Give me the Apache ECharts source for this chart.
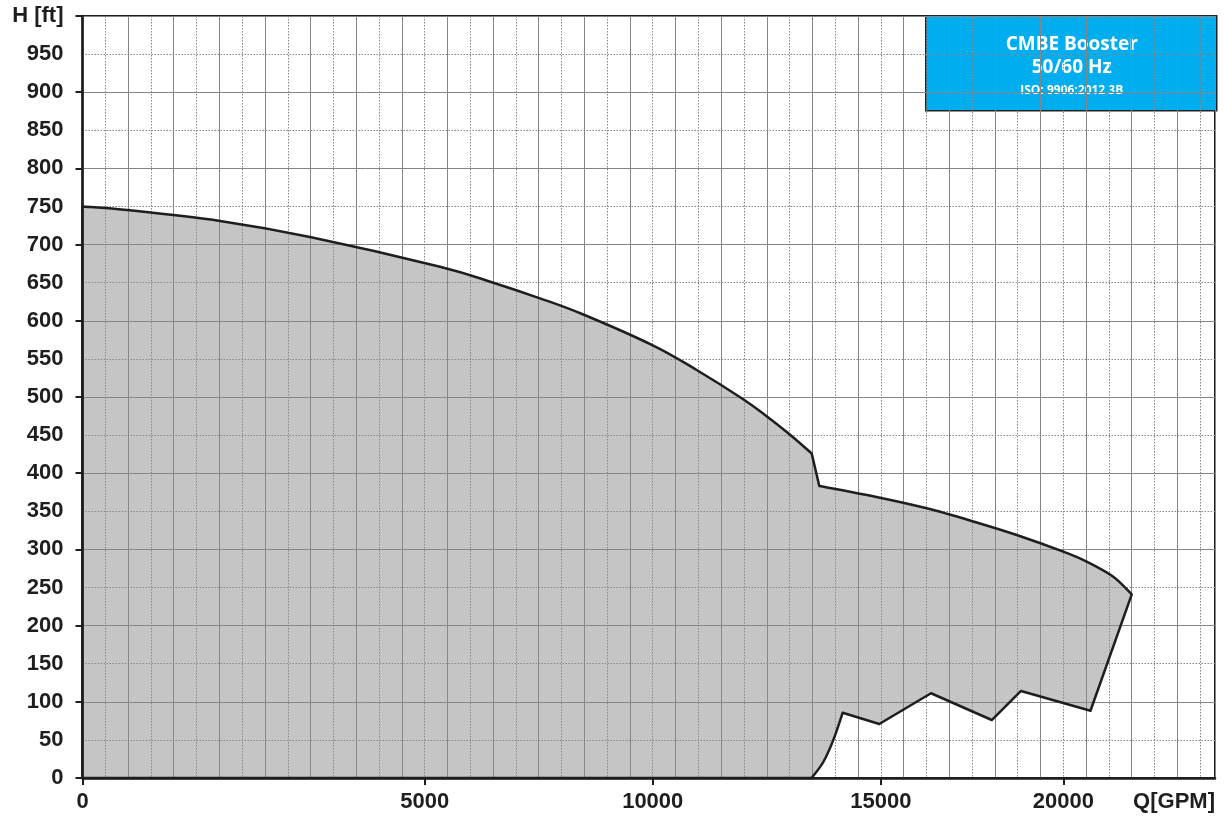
<!DOCTYPE html>
<html><head><meta charset="utf-8">
<script src="https://cdn.jsdelivr.net/npm/echarts@6/dist/echarts.min.js"></script>
<style>html,body{margin:0;padding:0;background:#fff}#c{width:1224px;height:817px}</style>
</head><body><div id="c"></div>
<script>
// X axis: labelled flow values and the grid line index where each label sits
const xTickValues = [0, 5000, 10000, 15000, 20000];
const xTickGridIndex = [0, 15, 25, 35, 43];
const xGridMax = 49.65;
const xAxisName = 'Q[GPM]';
// Y axis labels
const yLabelValues = [0,50,100,150,200,250,300,350,400,450,500,550,600,650,700,750,800,850,900,950,1000];
const yAxisName = 'H [ft]';

// Upper boundary, first (smooth) branch: Q [GPM], H [ft]
const upper1Q = [0, 694, 2010, 3324, 5336, 6505, 7528, 8478, 10012, 10963, 11950, 12461, 12971, 13484];
const upper1H = [750, 745, 731, 710, 671, 650, 629.5, 608.3, 567.5, 535.4, 498.3, 476.4, 452.4, 426];
// Upper boundary, second (smooth) branch after the step
const upper2Q = [13651, 14982, 16257, 17488, 18724, 20000, 20639, 21369, 21875];
const upper2H = [383.2, 367.8, 353.9, 337.3, 318.9, 297, 284, 264.2, 241];
// Lower boundary, straight zig-zag from the right end
const lowerZigQ = [20744, 18840, 18040, 16375, 14965, 14164];
const lowerZigH = [88.3, 114.2, 76.1, 111.2, 70.9, 85.7];
// Lower boundary, curved foot down to the axis
const lowerFootQ = [14164, 13959, 13739, 13484];
const lowerFootH = [85.7, 50, 21, 0];

const title1 = 'CMBE Booster';
const title2 = '50/60 Hz';
const title3 = 'ISO: 9906:2012 3B';

function toGrid(q) {
  const n = xTickValues.length;
  let i = 0;
  while (i < n - 2 && q > xTickValues[i + 1]) i++;
  const q0 = xTickValues[i], q1 = xTickValues[i + 1];
  const g0 = xTickGridIndex[i], g1 = xTickGridIndex[i + 1];
  return g0 + (q - q0) * (g1 - g0) / (q1 - q0);
}
const pairs = (qs, hs) => qs.map((q, i) => [toGrid(q), hs[i]]);
const segUpper1 = pairs(upper1Q, upper1H);
const segUpper2 = pairs(upper2Q, upper2H);
const segZig = pairs(lowerZigQ, lowerZigH);
const segFoot = pairs(lowerFootQ, lowerFootH);

function smoothTo(pts) {
  // Catmull-Rom through screen points, as cubic beziers (first point assumed current)
  let d = '';
  for (let i = 0; i < pts.length - 1; i++) {
    const p0 = pts[i - 1] || pts[i], p1 = pts[i], p2 = pts[i + 1], p3 = pts[i + 2] || pts[i + 1];
    const c1 = [p1[0] + (p2[0] - p0[0]) / 6, p1[1] + (p2[1] - p0[1]) / 6];
    const c2 = [p2[0] - (p3[0] - p1[0]) / 6, p2[1] - (p3[1] - p1[1]) / 6];
    d += ` C${c1[0]},${c1[1]} ${c2[0]},${c2[1]} ${p2[0]},${p2[1]}`;
  }
  return d;
}

const labelFont = {fontFamily: "'Liberation Sans', Arial, sans-serif", fontWeight: 'bold', fontSize: 22, color: '#1e1e1e'};
const chart = echarts.init(document.getElementById('c'), null, {renderer: 'canvas'});
chart.setOption({
  animation: false,
  grid: {left: 82.5, right: 9, top: 16, bottom: 39, show: true, borderColor: '#1e1e1e', borderWidth: 2, backgroundColor: 'transparent'},
  xAxis: [{
    type: 'value', min: 0, max: xGridMax, interval: 2, position: 'bottom',
    axisLine: {show: true, onZero: false, lineStyle: {color: '#1e1e1e', width: 2.5}},
    axisTick: {show: false}, axisLabel: {show: false},
    splitLine: {show: true, lineStyle: {color: '#858585', width: 1}},
    minorTick: {show: false, splitNumber: 2},
    minorSplitLine: {show: true, lineStyle: {color: '#858585', width: 1, type: [1.5, 1.5]}}
  }, {
    type: 'value', min: 0, max: xGridMax, position: 'bottom',
    axisLine: {show: false},
    axisTick: {show: true, length: 7, customValues: xTickGridIndex, lineStyle: {color: '#1e1e1e', width: 2}},
    axisLabel: Object.assign({show: true, margin: 13, customValues: xTickGridIndex,
      formatter: v => { const k = xTickGridIndex.indexOf(v); return k >= 0 ? String(xTickValues[k]) : ''; }}, labelFont),
    splitLine: {show: false},
    name: xAxisName, nameLocation: 'end', nameGap: 0,
    nameTextStyle: Object.assign({align: 'right', verticalAlign: 'top', padding: [13, 0, 0, 0]}, labelFont)
  }],
  yAxis: [{
    type: 'value', min: 0, max: 1000, interval: 100, position: 'left',
    axisLine: {show: true, onZero: false, lineStyle: {color: '#1e1e1e', width: 2.5}},
    axisTick: {show: true, length: 7, lineStyle: {color: '#1e1e1e', width: 2}},
    axisLabel: {show: false},
    splitLine: {show: true, lineStyle: {color: '#858585', width: 1}},
    minorTick: {show: false, splitNumber: 2},
    minorSplitLine: {show: true, lineStyle: {color: '#858585', width: 1, type: [1.5, 1.5]}}
  }, {
    type: 'value', min: 0, max: 1000, interval: 50, position: 'left',
    axisLine: {show: false}, axisTick: {show: false}, splitLine: {show: false},
    axisLabel: Object.assign({show: true, margin: 19, customValues: yLabelValues,
      formatter: v => v === 1000 ? yAxisName : String(v)}, labelFont)
  }],
  series: [{
    type: 'custom', xAxisIndex: 0, yAxisIndex: 0, data: [0], z: 3, silent: true,
    renderItem: (params, api) => {
      const c = p => api.coord(p);
      const u1 = segUpper1.map(c), u2 = segUpper2.map(c), zig = segZig.map(c), foot = segFoot.map(c);
      const origin = c([0, 0]);
      let d = `M${origin[0]},${origin[1]} L${u1[0][0]},${u1[0][1]}`;
      d += smoothTo(u1);
      d += ` L${u2[0][0]},${u2[0][1]}`;
      d += smoothTo(u2);
      zig.forEach(p => { d += ` L${p[0]},${p[1]}`; });
      d += smoothTo(foot);
      d += ' Z';
      return {type: 'path', shape: {pathData: d},
        style: {fill: 'rgba(140,140,140,0.5)', stroke: '#1e1e1e', lineWidth: 2.5, lineJoin: 'round'}};
    }
  }],
  graphic: [{
    type: 'group', left: 925, top: 15, z: 100,
    children: [
      {type: 'rect', shape: {x: 0, y: 0, width: 291, height: 95}, style: {fill: '#00aeef', stroke: '#222', lineWidth: 1.5}},
      {type: 'text', x: 146, y: 29, style: {text: title1, fill: '#fff', font: "bold 19px 'Open Sans', sans-serif", align: 'center', verticalAlign: 'middle'}},
      {type: 'text', x: 146, y: 52, style: {text: title2, fill: '#fff', font: "bold 19px 'Open Sans', sans-serif", align: 'center', verticalAlign: 'middle'}},
      {type: 'text', x: 146, y: 75, style: {text: title3, fill: '#fff', font: "bold 12px 'Open Sans', sans-serif", align: 'center', verticalAlign: 'middle'}}
    ]
  }]
});
</script></body></html>
